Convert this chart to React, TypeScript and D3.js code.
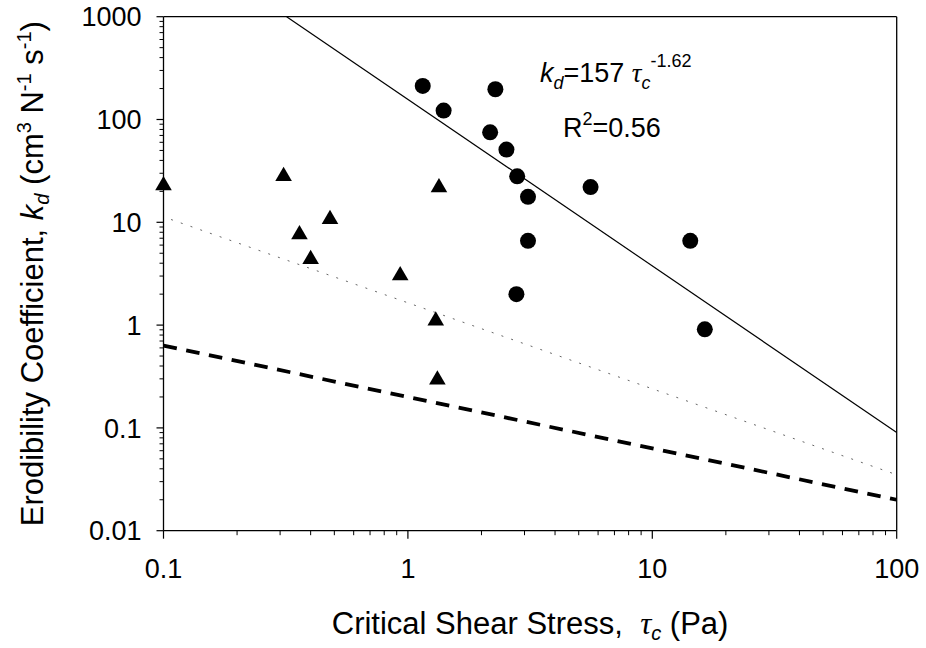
import React from 'react';
import * as d3 from 'd3';

// ---- data ----
const circleTau = [1.15, 2.28, 1.4, 2.17, 2.53, 2.8, 3.1, 3.1, 5.59, 2.78, 14.3, 16.4];
const circleKd = [212, 197, 122, 75, 51, 28, 17.7, 6.6, 22, 2.0, 6.6, 0.91];

const triangleTau = [0.1, 0.31, 0.36, 0.4, 0.48, 1.34, 0.93, 1.3, 1.32];
const triangleKd = [24, 29.5, 8.0, 4.6, 11.3, 23, 3.2, 1.16, 0.31];

// fitted power line kd = 157 tau^-1.62 (end points)
const fitTau = [0.319, 100];
const fitKd = [1000, 0.0903];

const dashedTau = [0.1, 100];
const dashedKd = [0.632, 0.02];

const dottedTau = [0.1, 100];
const dottedKd = [11.3, 0.035];

const xTicks = [0.1, 1, 10, 100];
const xTickLabels = ['0.1', '1', '10', '100'];
const yTicks = [0.01, 0.1, 1, 10, 100, 1000];
const yTickLabels = ['0.01', '0.1', '1', '10', '100', '1000'];

const FONT = "'Liberation Sans', Arial, sans-serif";
const SERIF = "'Liberation Serif', 'Times New Roman', serif";

export default function App() {
  const W = 926;
  const H = 648;
  const left = 163.5;
  const right = 896.7;
  const top = 16.7;
  const bottom = 530.7;

  const x = d3.scaleLog().domain([0.1, 100]).range([left, right]);
  const y = d3.scaleLog().domain([0.01, 1000]).range([bottom, top]);

  const minorX: number[] = [];
  [0.1, 1, 10].forEach((d) => {
    for (let k = 2; k <= 9; k++) minorX.push(d * k);
  });
  const minorY: number[] = [];
  [0.01, 0.1, 1, 10, 100].forEach((d) => {
    for (let k = 2; k <= 9; k++) minorY.push(d * k);
  });

  const line = d3
    .line<[number, number]>()
    .x((d) => x(d[0]))
    .y((d) => y(d[1]));

  const fitPts = fitTau.map((t, i) => [t, fitKd[i]] as [number, number]);
  const dashedPts = dashedTau.map((t, i) => [t, dashedKd[i]] as [number, number]);
  const dottedPts = dottedTau.map((t, i) => [t, dottedKd[i]] as [number, number]);

  const triPath = 'M0,-7.2 L8.3,7.1 L-8.3,7.1 Z';

  return (
    <svg
      width={W}
      height={H}
      style={{ position: 'absolute', left: 0, top: 0, background: '#fff' }}
      fontFamily={FONT}
    >
      <rect x={0} y={0} width={W} height={H} fill="#fff" />

      {/* lines */}
      <path d={line(dottedPts) || ''} fill="none" stroke="#555" strokeWidth={0.9} strokeDasharray="2 8.3" strokeDashoffset={-8} />
      <path d={line(dashedPts) || ''} fill="none" stroke="#000" strokeWidth={3.8} strokeDasharray="13.6 9.6" />
      <path d={line(fitPts) || ''} fill="none" stroke="#000" strokeWidth={1.2} />

      {/* frame */}
      <line x1={left} x2={right} y1={top} y2={top} stroke="#000" strokeWidth={1.3} />
      <line x1={right} x2={right} y1={top} y2={bottom} stroke="#000" strokeWidth={1.3} />
      <line x1={left} x2={left} y1={top} y2={bottom} stroke="#000" strokeWidth={1.3} />
      <line x1={left} x2={right} y1={bottom} y2={bottom} stroke="#000" strokeWidth={1.3} />

      {/* y ticks */}
      {yTicks.map((t) => (
        <line key={'yM' + t} x1={left - 7} x2={left} y1={y(t)} y2={y(t)} stroke="#000" strokeWidth={1.2} />
      ))}
      {minorY.map((t) => (
        <line key={'ym' + t} x1={left - 4} x2={left} y1={y(t)} y2={y(t)} stroke="#000" strokeWidth={1} />
      ))}
      {yTicks.map((t, i) => (
        <text key={'yl' + t} x={left - 22} y={y(t)} dy="0.36em" textAnchor="end" fontSize={27} fill="#000">
          {yTickLabels[i]}
        </text>
      ))}

      {/* x ticks */}
      {xTicks.map((t) => (
        <line key={'xM' + t} x1={x(t)} x2={x(t)} y1={bottom} y2={bottom + 8} stroke="#000" strokeWidth={1.2} />
      ))}
      {minorX.map((t) => (
        <line key={'xm' + t} x1={x(t)} x2={x(t)} y1={bottom} y2={bottom + 4.5} stroke="#000" strokeWidth={1} />
      ))}
      {xTicks.map((t, i) => (
        <text key={'xl' + t} x={x(t)} y={578} textAnchor="middle" fontSize={27} fill="#000">
          {xTickLabels[i]}
        </text>
      ))}

      {/* markers */}
      {circleTau.map((t, i) => (
        <circle key={'c' + i} cx={x(t)} cy={y(circleKd[i])} r={8} fill="#000" />
      ))}
      {triangleTau.map((t, i) => (
        <path key={'t' + i} d={triPath} transform={`translate(${x(t)},${y(triangleKd[i])})`} fill="#000" />
      ))}

      {/* annotation */}
      <text x={540} y={82} fontSize={27} fill="#000" style={{ whiteSpace: 'pre' }}>
        <tspan fontStyle="italic">k</tspan>
        <tspan fontSize={18} dy={7} fontStyle="italic">d</tspan>
        <tspan dy={-7}>{'=157 '}</tspan>
        <tspan fontStyle="italic" fontFamily={SERIF}>τ</tspan>
        <tspan fontSize={18} dy={7} fontStyle="italic">c</tspan>
        <tspan fontSize={18} dy={-22}>-1.62</tspan>
      </text>
      <text x={563} y={137} fontSize={27} fill="#000">
        R<tspan fontSize={18} dy={-12}>2</tspan>
        <tspan dy={12}>=0.56</tspan>
      </text>

      {/* x title */}
      <text x={(left + right) / 2} y={634} textAnchor="middle" fontSize={31} fill="#000" style={{ whiteSpace: 'pre' }}>
        {'Critical Shear Stress,  '}
        <tspan fontStyle="italic" fontFamily={SERIF}>τ</tspan>
        <tspan fontSize={20} dy={6} fontStyle="italic">c</tspan>
        <tspan dy={-6}>{' (Pa)'}</tspan>
      </text>

      {/* y title */}
      <text
        transform={`translate(43,${(top + bottom) / 2}) rotate(-90)`}
        textAnchor="middle"
        fontSize={31}
        fill="#000"
        style={{ whiteSpace: 'pre' }}
      >
        {'Erodibility Coefficient, '}
        <tspan fontStyle="italic">k</tspan>
        <tspan fontSize={20} dy={6} fontStyle="italic">d</tspan>
        <tspan dy={-6}>{' (cm'}</tspan>
        <tspan fontSize={20} dy={-12}>3</tspan>
        <tspan dy={12}>{' N'}</tspan>
        <tspan fontSize={20} dy={-12}>-1</tspan>
        <tspan dy={12}>{' s'}</tspan>
        <tspan fontSize={20} dy={-12}>-1</tspan>
        <tspan dy={12}>)</tspan>
      </text>
    </svg>
  );
}
